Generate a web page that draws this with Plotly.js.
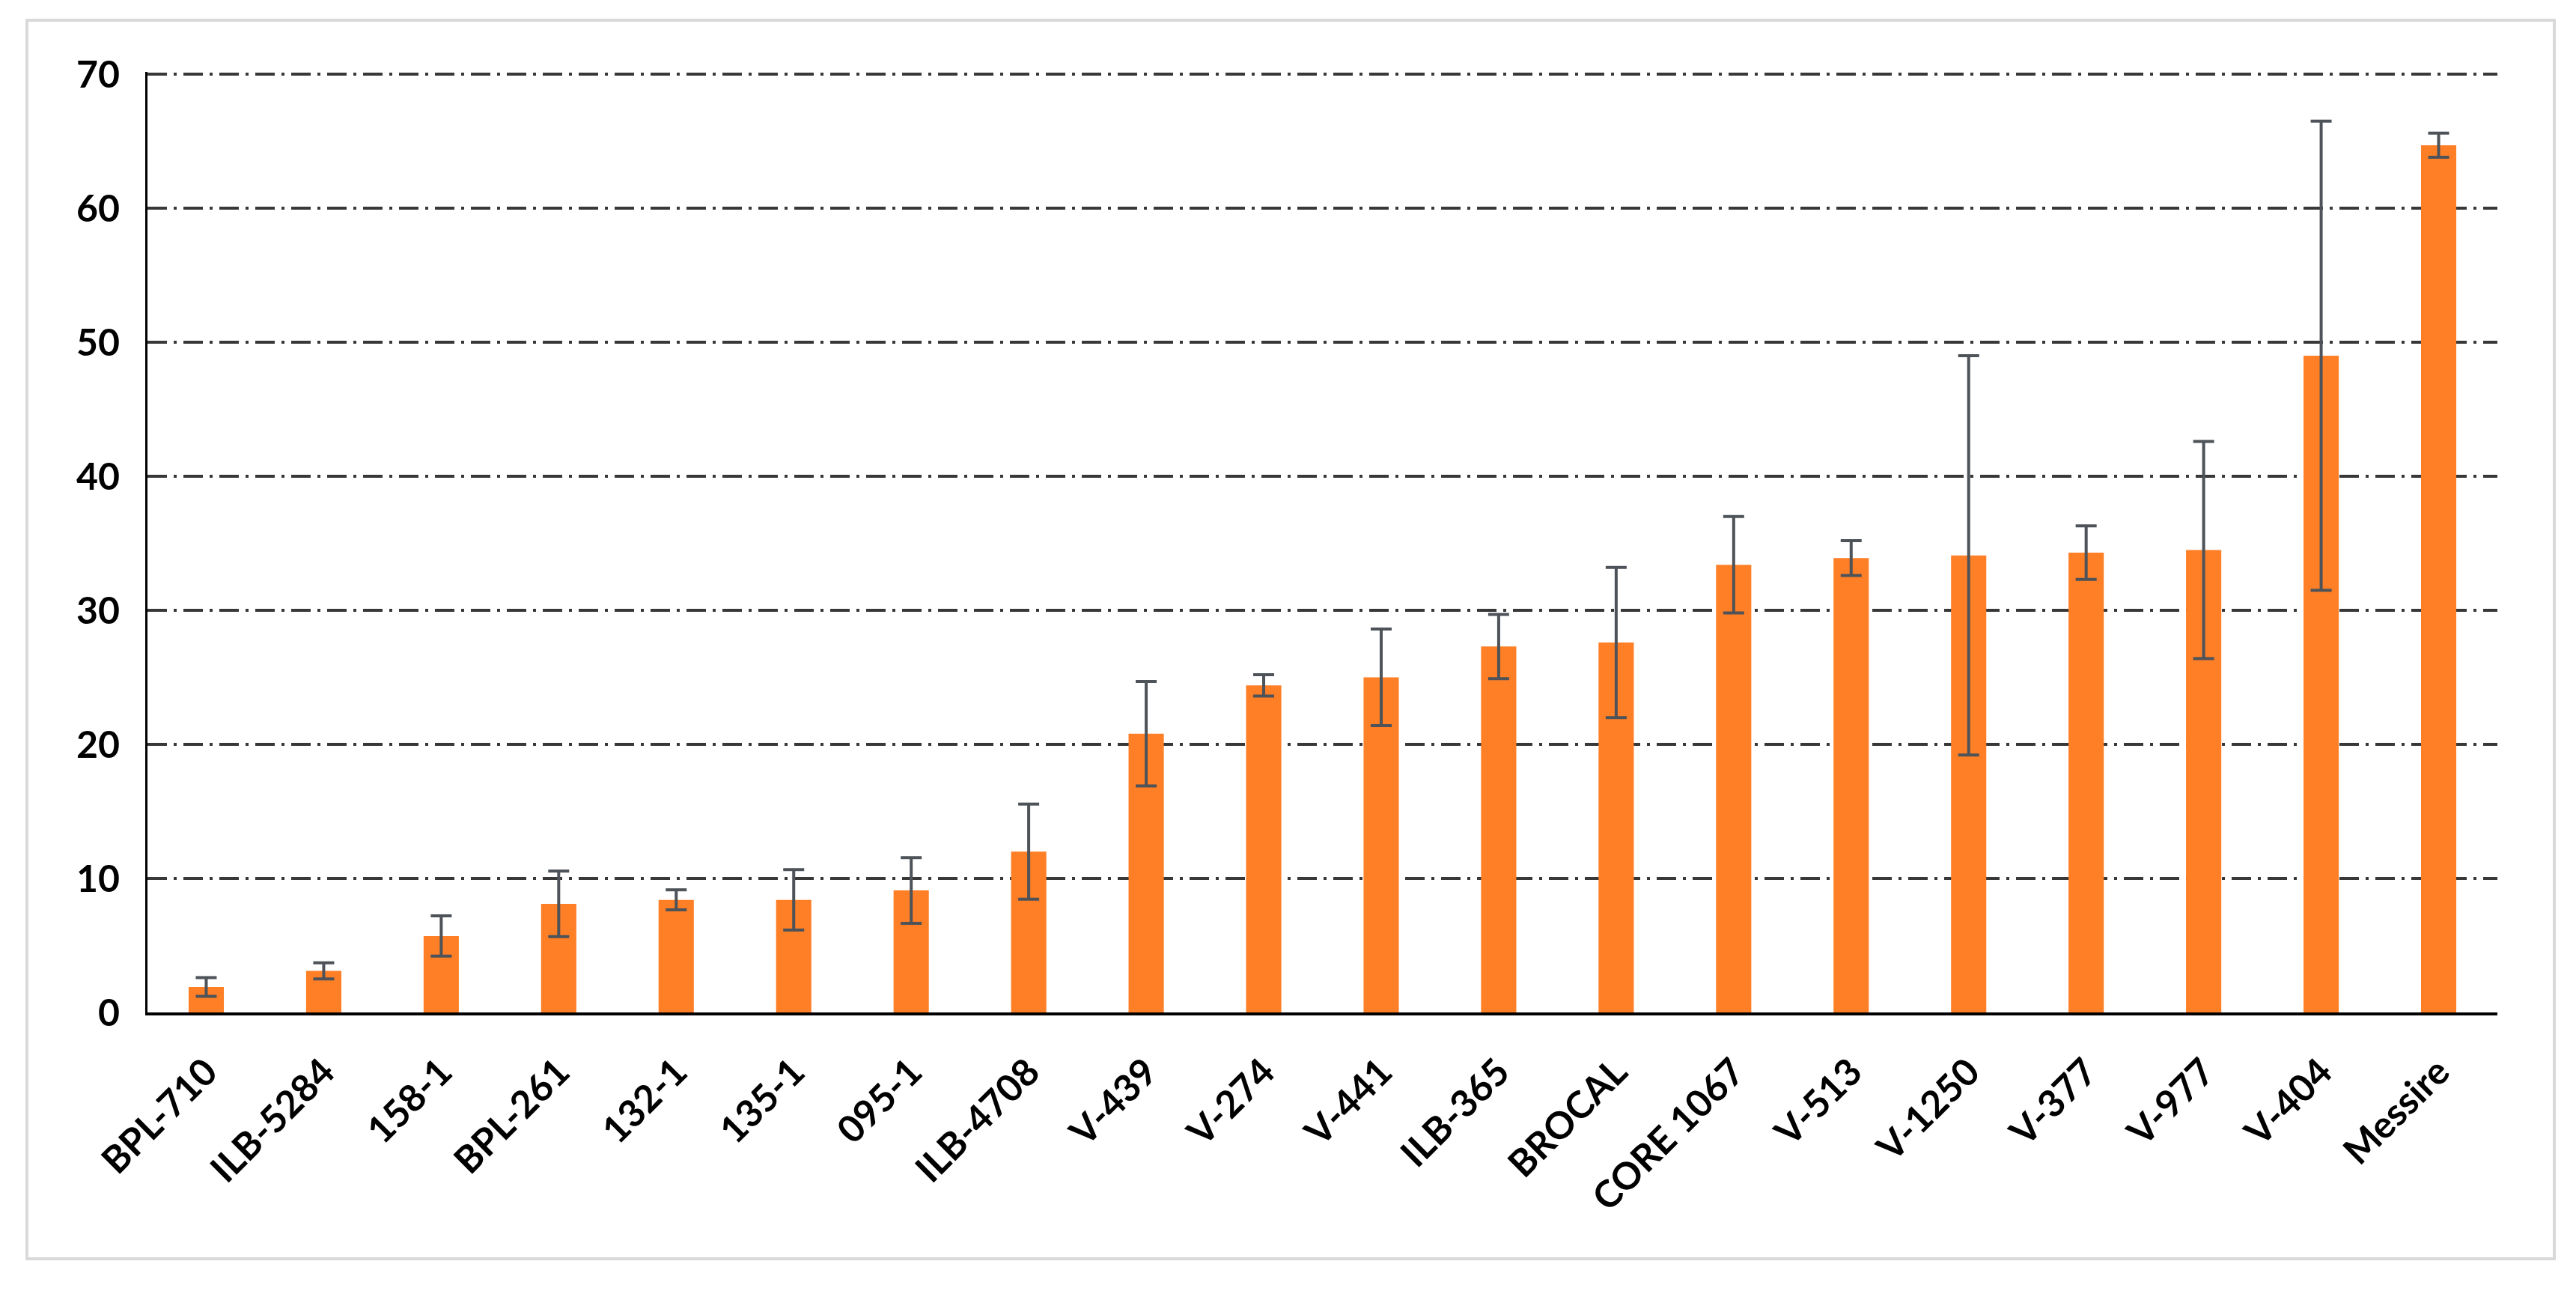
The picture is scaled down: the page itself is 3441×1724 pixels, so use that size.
<!DOCTYPE html>
<html>
<head>
<meta charset="utf-8">
<script src="https://cdn.plot.ly/plotly-3.0.1.min.js"></script>
<style>
  html, body { margin: 0; padding: 0; background: #ffffff; }
  #chart { width: 3441px; height: 1724px; }
</style>
</head>
<body>
<div id="chart"></div>
<script>
const categories = ['BPL-710','ILB-5284','158-1','BPL-261','132-1','135-1','095-1','ILB-4708','V-439','V-274','V-441','ILB-365','BROCAL','CORE 1067','V-513','V-1250','V-377','V-977','V-404','Messire'];
const values = [1.9, 3.1, 5.7, 8.1, 8.4, 8.4, 9.1, 12.0, 20.8, 24.4, 25.0, 27.3, 27.6, 33.4, 33.9, 34.1, 34.3, 34.5, 49.0, 64.7];
const errors = [0.7, 0.6, 1.5, 2.45, 0.75, 2.25, 2.45, 3.55, 3.9, 0.8, 3.6, 2.4, 5.6, 3.6, 1.3, 14.9, 2.0, 8.1, 17.5, 0.9];
const yTicks = [0, 10, 20, 30, 40, 50, 60, 70];

const W = 3441, H = 1724;
const m = { l: 197, r: 105, t: 96, b: 372 };
const pw = W - m.l - m.r, ph = H - m.t - m.b;
// outer light-grey frame (pixel positions converted to paper coordinates)
const fx0 = (36 - m.l) / pw, fx1 = (3412 - m.l) / pw;
const fy0 = (H - m.b - 1681) / ph, fy1 = (H - m.b - 27) / ph;

const trace = {
  type: 'bar',
  x: categories,
  y: values,
  width: 0.3,
  marker: { color: '#FF7F27', line: { width: 0 } },
  error_y: {
    type: 'data',
    array: errors,
    visible: true,
    color: '#4d5358',
    thickness: 4,
    width: 14
  },
  hoverinfo: 'x+y'
};

const tickFont = { family: 'Lato, "Open Sans", sans-serif', size: 50, color: '#000000', weight: 'bold' };

const layout = {
  width: W,
  height: H,
  margin: m,
  paper_bgcolor: '#ffffff',
  plot_bgcolor: '#ffffff',
  showlegend: false,
  xaxis: {
    type: 'category',
    tickangle: -45,
    tickfont: tickFont,
    showline: true,
    linecolor: '#000000',
    linewidth: 4,
    showgrid: false,
    ticks: '',
    ticklabelstandoff: 26,
    zeroline: false
  },
  yaxis: {
    range: [0, 70.17],
    tickvals: yTicks,
    ticktext: yTicks.map(String),
    tickfont: tickFont,
    showline: true,
    linecolor: '#000000',
    linewidth: 3,
    showgrid: true,
    gridcolor: '#383838',
    gridwidth: 3.5,
    griddash: '26px,9px,4px,9px',
    ticks: '',
    ticklabelstandoff: 24,
    zeroline: false
  },
  shapes: [{
    type: 'rect',
    xref: 'paper', yref: 'paper',
    x0: fx0, x1: fx1, y0: fy0, y1: fy1,
    line: { color: '#d9d9d9', width: 4 },
    fillcolor: 'rgba(0,0,0,0)',
    layer: 'below'
  }]
};

Plotly.newPlot('chart', [trace], layout, { displayModeBar: false, staticPlot: true });
</script>
</body>
</html>
